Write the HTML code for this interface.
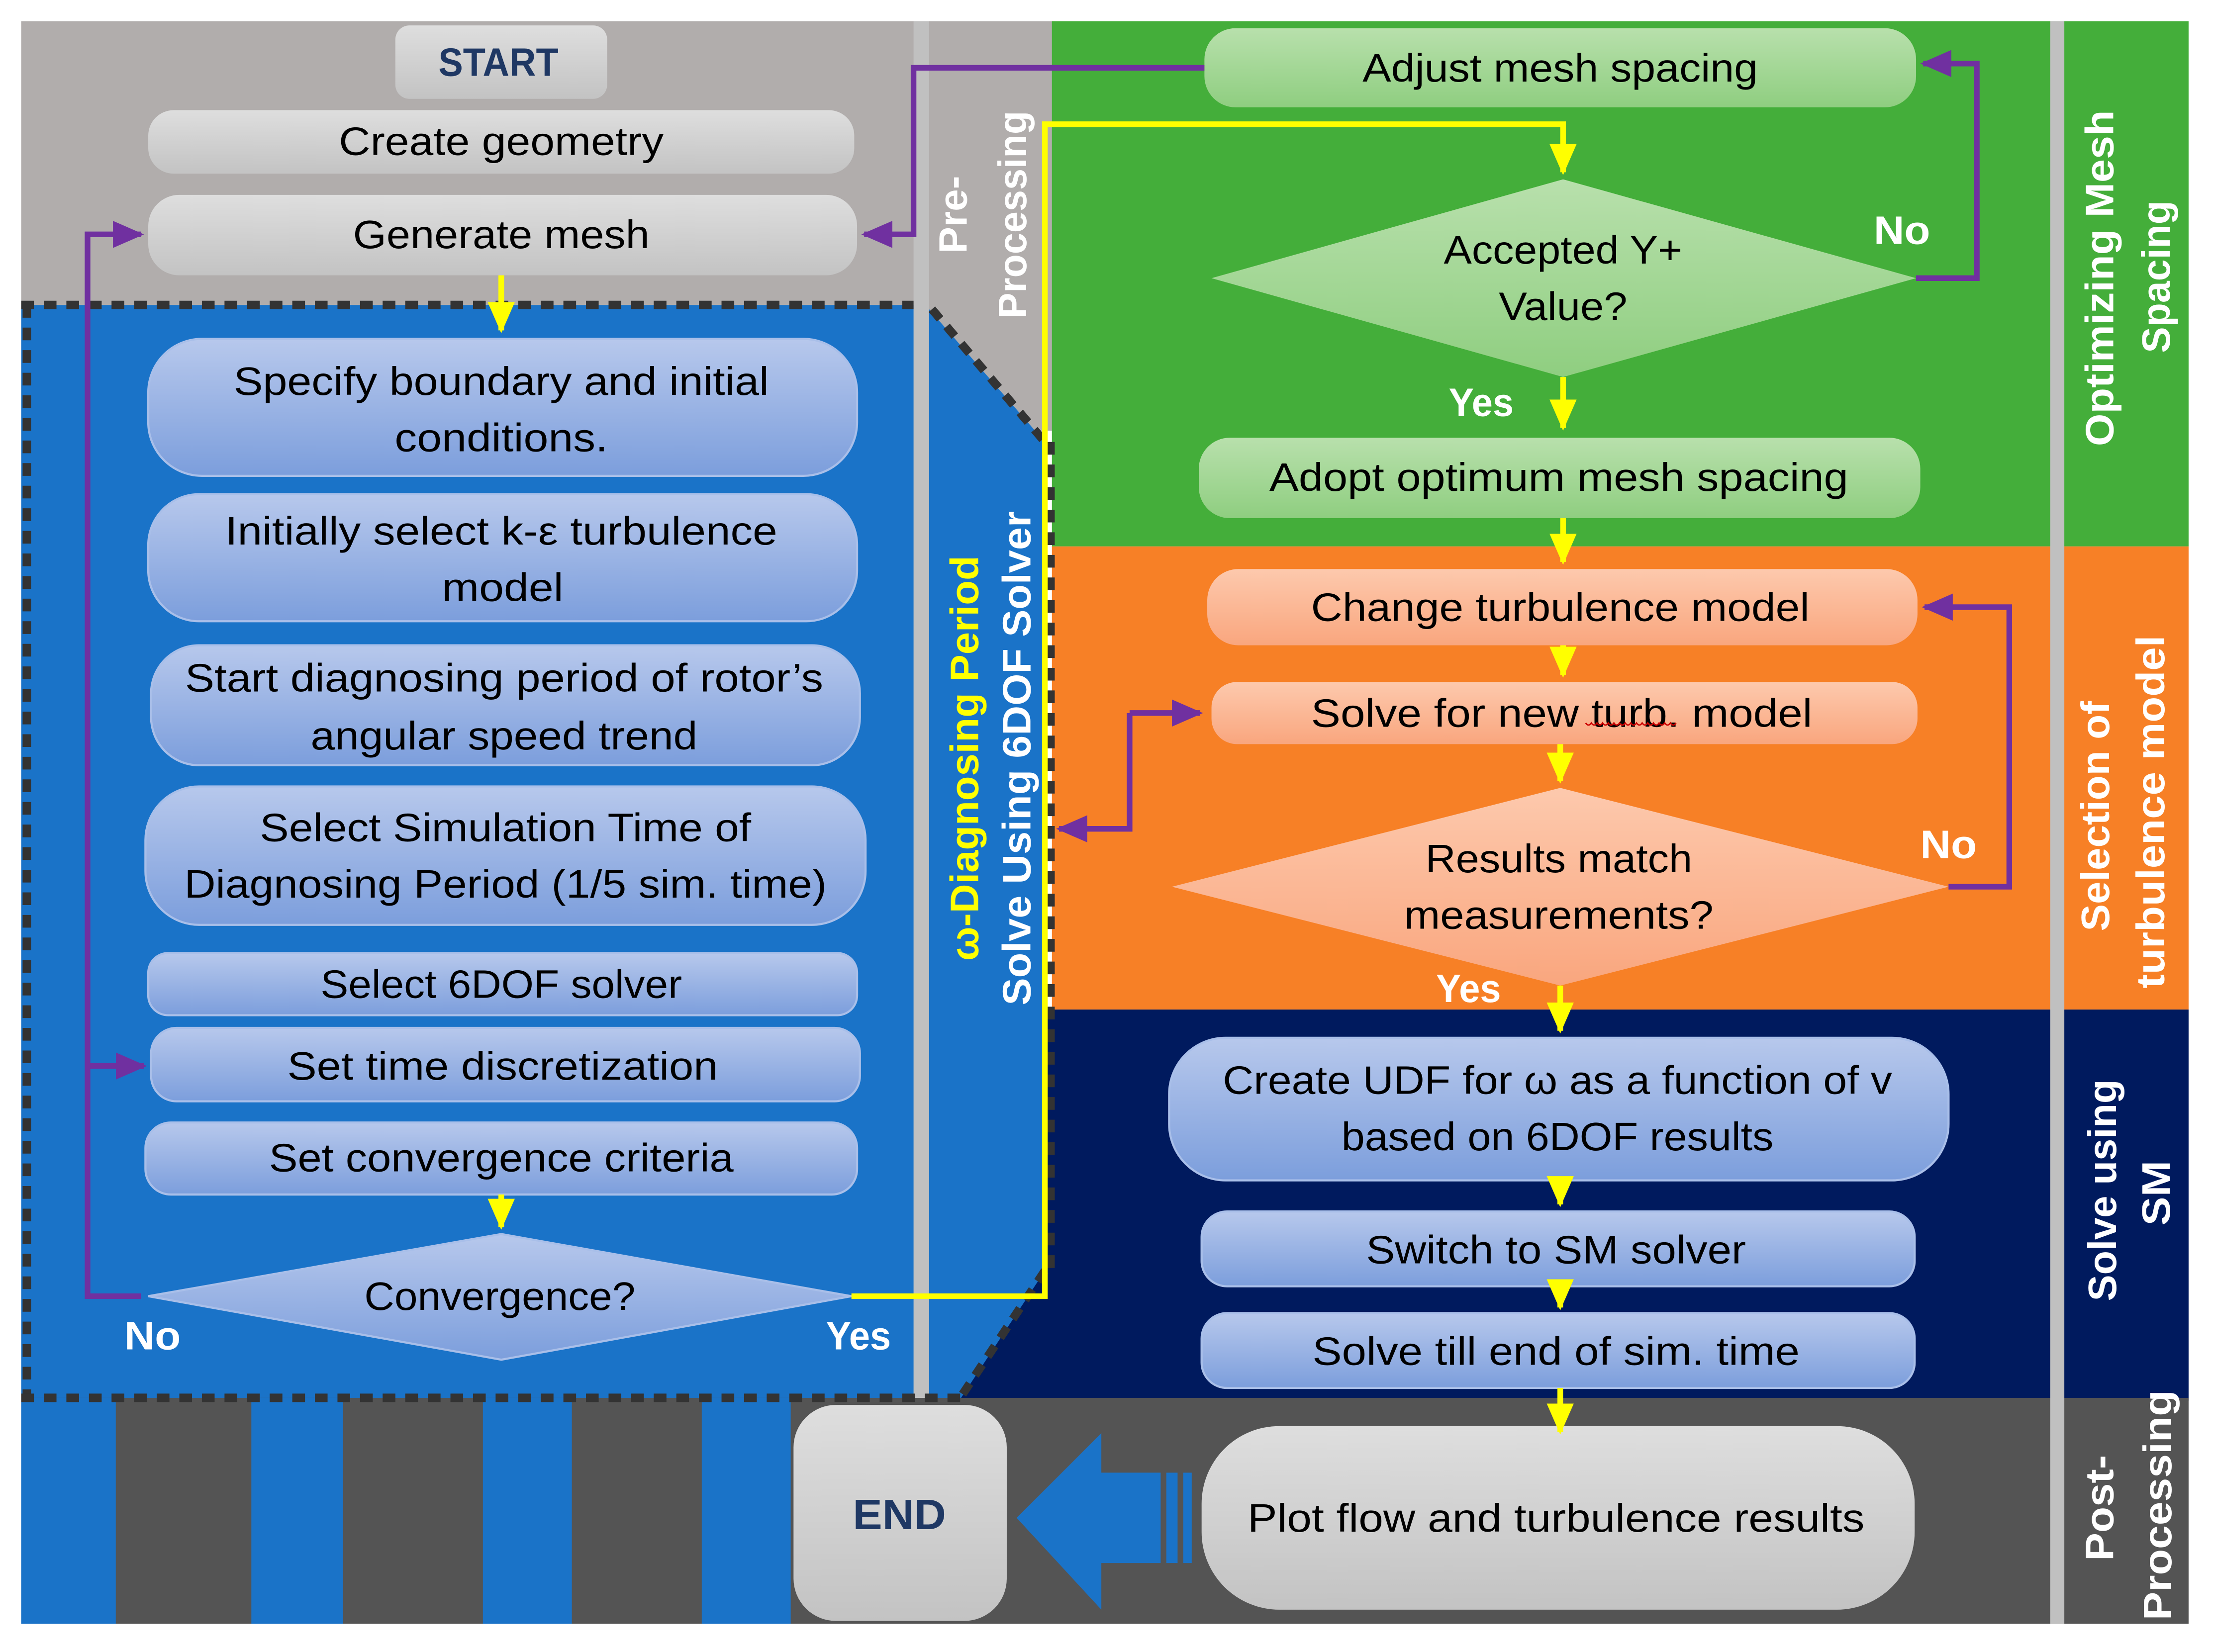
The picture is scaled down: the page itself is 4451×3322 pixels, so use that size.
<!DOCTYPE html>
<html><head><meta charset="utf-8"><style>
html,body{margin:0;padding:0;background:#fff;}
svg{display:block;width:4451px;height:3322px;}
text{font-family:"Liberation Sans Narrow","Liberation Sans",sans-serif;}
</style></head><body>
<svg viewBox="0 0 1568 1170" preserveAspectRatio="none" xmlns="http://www.w3.org/2000/svg">
<defs>
<linearGradient id="gb" x1="0" y1="0" x2="0" y2="1"><stop offset="0" stop-color="#b7c8ec"/><stop offset="1" stop-color="#7c9edc"/></linearGradient>
<linearGradient id="gg" x1="0" y1="0" x2="0" y2="1"><stop offset="0" stop-color="#dedede"/><stop offset="1" stop-color="#c3c3c3"/></linearGradient>
<linearGradient id="gn" x1="0" y1="0" x2="0" y2="1"><stop offset="0" stop-color="#b8e0ac"/><stop offset="1" stop-color="#8fce80"/></linearGradient>
<linearGradient id="go" x1="0" y1="0" x2="0" y2="1"><stop offset="0" stop-color="#fdc9ad"/><stop offset="1" stop-color="#f9a67e"/></linearGradient>
<marker id="ap" markerWidth="6" markerHeight="6" refX="5" refY="3" orient="auto" markerUnits="strokeWidth"><path d="M0,0.6 L5.5,3 L0,5.4 Z" fill="#7030a0"/></marker>
<marker id="ay" markerWidth="6" markerHeight="6" refX="5" refY="3" orient="auto" markerUnits="strokeWidth"><path d="M0,0.6 L5.5,3 L0,5.4 Z" fill="#ffff00"/></marker>
</defs>
<!-- regions -->
<rect x="15" y="15" width="732" height="290" fill="#b1adac"/>
<rect x="745" y="15" width="805" height="372" fill="#44ae3a"/>
<rect x="745" y="387" width="805" height="328" fill="#f78026"/>
<rect x="660" y="715" width="890" height="277" fill="#001a5e"/>
<rect x="15" y="216" width="633" height="775" fill="#1a73c8"/>
<polygon points="658,219 740,313 740,900 680,991 658,991" fill="#1a73c8"/>
<rect x="15" y="990" width="1535" height="160" fill="#545454"/>
<rect x="15" y="990" width="67" height="160" fill="#1a73c8"/>
<rect x="178" y="990" width="65" height="160" fill="#1a73c8"/>
<rect x="342" y="990" width="63" height="160" fill="#1a73c8"/>
<rect x="497" y="990" width="63" height="160" fill="#1a73c8"/>
<rect x="647" y="15" width="11" height="975" fill="#c0c0c0"/>
<rect x="1452" y="15" width="10" height="1135" fill="#c0c0c0"/>
<!-- dotted borders -->
<g stroke="#333" stroke-width="6" stroke-dasharray="9 7" fill="none">
<line x1="15" y1="216" x2="647" y2="216"/>
<line x1="19" y1="216" x2="19" y2="990"/>
<line x1="15" y1="990" x2="680" y2="990"/>
<line x1="660" y1="219" x2="740" y2="313"/>
<line x1="740" y1="900" x2="680" y2="990"/>
<line x1="744" y1="313" x2="744" y2="900"/>
</g>
<!-- gray boxes -->
<rect x="280" y="18" width="150" height="52" rx="10" fill="url(#gg)"/>
<rect x="105" y="78" width="500" height="45" rx="18" fill="url(#gg)"/>
<rect x="105" y="138" width="502" height="57" rx="22" fill="url(#gg)"/>
<rect x="562" y="995" width="151" height="153" rx="30" fill="url(#gg)"/>
<rect x="851" y="1010" width="505" height="130" rx="55" fill="url(#gg)"/>
<!-- blue boxes -->
<g fill="url(#gb)" stroke="#a9bfe9" stroke-width="1.5">
<rect x="105" y="240" width="502" height="97" rx="38"/>
<rect x="105" y="350" width="502" height="90" rx="36"/>
<rect x="107" y="457" width="502" height="85" rx="34"/>
<rect x="103" y="557" width="510" height="98" rx="38"/>
<rect x="105" y="675" width="502" height="44" rx="14"/>
<rect x="107" y="728" width="502" height="52" rx="18"/>
<rect x="103" y="795" width="504" height="51" rx="18"/>
<polygon points="105,918 355,874 603,918 355,963"/>
<rect x="828" y="735" width="552" height="101" rx="40"/>
<rect x="851" y="858" width="505" height="53" rx="18"/>
<rect x="851" y="930" width="505" height="53" rx="18"/>
</g>
<!-- green -->
<g fill="url(#gn)">
<rect x="853" y="20" width="504" height="56" rx="22"/>
<polygon points="858,197 1107,127 1357,197 1107,267"/>
<rect x="849" y="310" width="511" height="57" rx="22"/>
</g>
<!-- orange -->
<g fill="url(#go)">
<rect x="855" y="403" width="503" height="54" rx="22"/>
<rect x="858" y="483" width="500" height="44" rx="18"/>
<polygon points="830,628 1105,558 1380,628 1105,698"/>
</g>
<!-- big arrow -->
<polygon points="720,1075 780,1015 780,1043 822,1043 822,1107 780,1107 780,1140" fill="#1a73c8"/>
<rect x="826" y="1043" width="8" height="64" fill="#1a73c8"/>
<rect x="838" y="1043" width="6" height="64" fill="#1a73c8"/>
<!-- purple connectors -->
<g stroke="#7030a0" stroke-width="4" fill="none">
<polyline points="853,48 647,48 647,166 612,166" marker-end="url(#ap)"/>
<polyline points="1357,197 1400,197 1400,45 1362,45" marker-end="url(#ap)"/>
<polyline points="100,918 62,918 62,166 100,166" marker-end="url(#ap)"/>
<polyline points="62,755 102,755" marker-end="url(#ap)"/>
<polyline points="1380,628 1423,628 1423,430 1363,430" marker-end="url(#ap)"/>
<polyline points="800,505 800,587 750,587" marker-end="url(#ap)"/>
<polyline points="800,505 850,505" marker-end="url(#ap)"/>
</g>
<!-- yellow connectors -->
<g stroke="#ffff00" stroke-width="4" fill="none">
<polyline points="355,195 355,234" marker-end="url(#ay)"/>
<polyline points="355,846 355,869" marker-end="url(#ay)"/>
<polyline points="603,918 740,918 740,88 1107,88 1107,122" marker-end="url(#ay)"/>
<polyline points="1107,267 1107,303" marker-end="url(#ay)"/>
<polyline points="1107,367 1107,398" marker-end="url(#ay)"/>
<polyline points="1107,457 1107,478" marker-end="url(#ay)"/>
<polyline points="1105,527 1105,553" marker-end="url(#ay)"/>
<polyline points="1105,698 1105,730" marker-end="url(#ay)"/>
<polyline points="1105,836 1105,853" marker-end="url(#ay)"/>
<polyline points="1105,911 1105,926" marker-end="url(#ay)"/>
<polyline points="1105,983 1105,1014" marker-end="url(#ay)"/>
</g>
<!-- box text -->
<g font-size="28" fill="#000" text-anchor="middle" dominant-baseline="central" lengthAdjust="spacingAndGlyphs">
<text x="353" y="44" font-weight="bold" fill="#1f3864" textLength="85" lengthAdjust="spacingAndGlyphs">START</text>
<text x="355" y="100" textLength="230" lengthAdjust="spacingAndGlyphs">Create geometry</text>
<text x="355" y="166" textLength="210" lengthAdjust="spacingAndGlyphs">Generate mesh</text>
<text x="355" y="270" textLength="379" lengthAdjust="spacingAndGlyphs">Specify boundary and initial</text>
<text x="355" y="310" textLength="151" lengthAdjust="spacingAndGlyphs">conditions.</text>
<text x="355" y="376" textLength="391" lengthAdjust="spacingAndGlyphs">Initially select k-ε turbulence</text>
<text x="356" y="416" textLength="86" lengthAdjust="spacingAndGlyphs">model</text>
<text x="357" y="480" textLength="452" lengthAdjust="spacingAndGlyphs">Start diagnosing period of rotor’s</text>
<text x="357" y="521" textLength="274" lengthAdjust="spacingAndGlyphs">angular speed trend</text>
<text x="358" y="586" textLength="348" lengthAdjust="spacingAndGlyphs">Select Simulation Time of</text>
<text x="358" y="626" textLength="455" lengthAdjust="spacingAndGlyphs">Diagnosing Period (1/5 sim. time)</text>
<text x="355" y="697" textLength="256" lengthAdjust="spacingAndGlyphs">Select 6DOF solver</text>
<text x="356" y="755" textLength="305" lengthAdjust="spacingAndGlyphs">Set time discretization</text>
<text x="355" y="820" textLength="329" lengthAdjust="spacingAndGlyphs">Set convergence criteria</text>
<text x="354" y="918" textLength="192" lengthAdjust="spacingAndGlyphs">Convergence?</text>
<text x="1105" y="48" textLength="280" lengthAdjust="spacingAndGlyphs">Adjust mesh spacing</text>
<text x="1107" y="177" textLength="169" lengthAdjust="spacingAndGlyphs">Accepted Y+</text>
<text x="1107" y="217" textLength="91" lengthAdjust="spacingAndGlyphs">Value?</text>
<text x="1104" y="338" textLength="410" lengthAdjust="spacingAndGlyphs">Adopt optimum mesh spacing</text>
<text x="1105" y="430" textLength="353" lengthAdjust="spacingAndGlyphs">Change turbulence model</text>
<text x="1106" y="505" textLength="355" lengthAdjust="spacingAndGlyphs">Solve for new turb. model</text>
<text x="1104" y="608" textLength="189" lengthAdjust="spacingAndGlyphs">Results match</text>
<text x="1104" y="648" textLength="219" lengthAdjust="spacingAndGlyphs">measurements?</text>
<text x="1103" y="765" textLength="474" lengthAdjust="spacingAndGlyphs">Create UDF for ω as a function of v</text>
<text x="1103" y="805" textLength="306" lengthAdjust="spacingAndGlyphs">based on 6DOF results</text>
<text x="1102" y="885" textLength="269" lengthAdjust="spacingAndGlyphs">Switch to SM solver</text>
<text x="1102" y="957" textLength="345" lengthAdjust="spacingAndGlyphs">Solve till end of sim. time</text>
<text x="1102" y="1075" textLength="437" lengthAdjust="spacingAndGlyphs">Plot flow and turbulence results</text>
<text x="637" y="1073" font-weight="bold" fill="#1f3864" font-size="30" textLength="66" lengthAdjust="spacingAndGlyphs">END</text>
</g>
<path d="M1123,512 q2,3 4,0 q2,3 4,0 q2,3 4,0 q2,3 4,0 q2,3 4,0 q2,3 4,0 q2,3 4,0 q2,3 4,0 q2,3 4,0 q2,3 4,0 q2,3 4,0 q2,3 4,0 q2,3 4,0 q2,3 4,0 q2,3 4,0 q2,3 4,0" stroke="#c00" stroke-width="1" fill="none"/>
<!-- yes/no labels -->
<g font-size="28" font-weight="bold" fill="#fff" text-anchor="middle" dominant-baseline="central">
<text x="108" y="946" textLength="40" lengthAdjust="spacingAndGlyphs">No</text>
<text x="608" y="946" textLength="46" lengthAdjust="spacingAndGlyphs">Yes</text>
<text x="1347" y="163" textLength="40" lengthAdjust="spacingAndGlyphs">No</text>
<text x="1049" y="285" textLength="46" lengthAdjust="spacingAndGlyphs">Yes</text>
<text x="1380" y="598" textLength="40" lengthAdjust="spacingAndGlyphs">No</text>
<text x="1040" y="700" textLength="46" lengthAdjust="spacingAndGlyphs">Yes</text>
</g>
<!-- vertical labels -->
<g font-size="28" font-weight="bold" fill="#fff" text-anchor="middle" dominant-baseline="central">
<text transform="translate(675,152) rotate(-90)" textLength="55" lengthAdjust="spacingAndGlyphs">Pre-</text>
<text transform="translate(717,152) rotate(-90)" textLength="147" lengthAdjust="spacingAndGlyphs">Processing</text>
<text transform="translate(683,537) rotate(-90)" fill="#ffff00" textLength="287" lengthAdjust="spacingAndGlyphs">ω-Diagnosing Period</text>
<text transform="translate(720,537) rotate(-90)" textLength="350" lengthAdjust="spacingAndGlyphs">Solve Using  6DOF Solver</text>
<text transform="translate(1487,197) rotate(-90)" textLength="238" lengthAdjust="spacingAndGlyphs">Optimizing Mesh</text>
<text transform="translate(1527,196) rotate(-90)" textLength="108" lengthAdjust="spacingAndGlyphs">Spacing</text>
<text transform="translate(1484,578) rotate(-90)" textLength="163" lengthAdjust="spacingAndGlyphs">Selection of</text>
<text transform="translate(1523,575) rotate(-90)" textLength="250" lengthAdjust="spacingAndGlyphs">turbulence model</text>
<text transform="translate(1489,843) rotate(-90)" textLength="157" lengthAdjust="spacingAndGlyphs">Solve using</text>
<text transform="translate(1527,845) rotate(-90)" textLength="46" lengthAdjust="spacingAndGlyphs">SM</text>
<text transform="translate(1487,1068) rotate(-90)" textLength="75" lengthAdjust="spacingAndGlyphs">Post-</text>
<text transform="translate(1528,1066) rotate(-90)" textLength="163" lengthAdjust="spacingAndGlyphs">Processing</text>
</g>
</svg>
</body></html>
